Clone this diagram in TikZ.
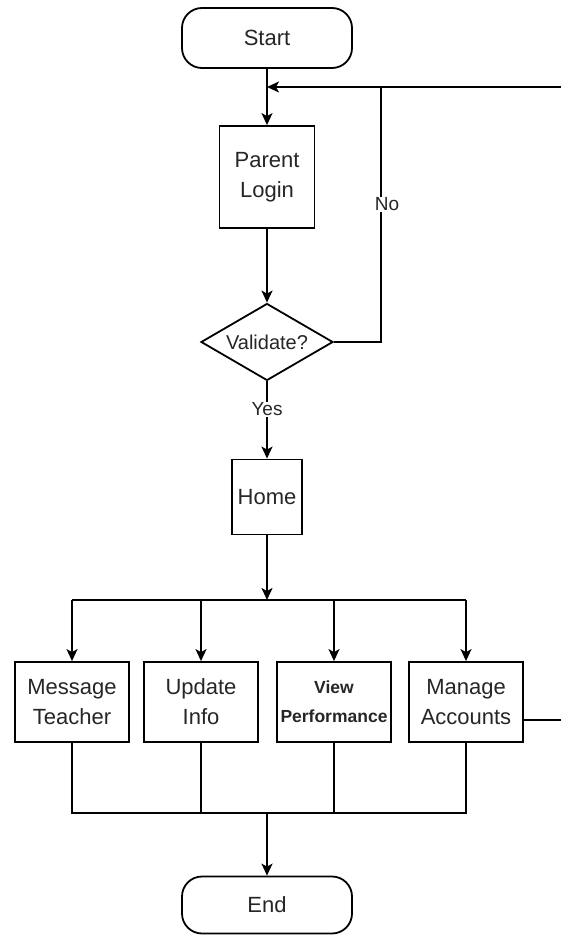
\documentclass[tikz,border=0pt]{standalone}
\usepackage{fontspec}
\setmainfont{Liberation Sans}
\usetikzlibrary{shapes.geometric,arrows.meta}

\tikzset{
  box/.style={draw,line width=1.8pt,fill=white,minimum width=114pt,minimum height=80pt,align=center,inner sep=2pt,font=\fontsize{22}{30}\selectfont,text=black!85},
  term/.style={box,rounded corners=20pt,minimum width=170pt,minimum height=60pt},
  decide/.style={diamond,draw,line width=1.8pt,aspect=1.71,minimum width=132pt,minimum height=77pt,inner sep=0pt,font=\fontsize{20}{24}\selectfont,text=black!85},
  line/.style={line width=1.8pt},
  arr/.style={line,-{Stealth[length=12pt,width=11pt,inset=3pt]}},
  lbl/.style={fill=white,inner sep=1pt,font=\fontsize{19}{22}\selectfont,text=black!85}
}

\begin{document}
\begin{tikzpicture}[x=1pt,y=-1pt]
\useasboundingbox (0,0) rectangle (561,936);
% nodes
\node[term](start) at (267,38) {Start};
\node[box,minimum width=95pt,minimum height=102pt](login) at (267,177) {Parent\\Login};
\node[decide](valid) at (267,342) {Validate?};
\node[box,minimum width=70pt,minimum height=75pt](home) at (267,497) {Home};
\node[box](mt) at (72,702) {Message\\Teacher};
\node[box](ui) at (201,702) {Update\\Info};
\node[box,font=\bfseries\fontsize{17.5}{29}\selectfont](vp) at (334,702) {View\\Performance};
\node[box](ma) at (466,702) {Manage\\Accounts};
\node[term,minimum height=57pt](end) at (267,905) {End};
\coordinate (back) at (561,87);
\coordinate (out) at (561,720);
\coordinate (bus) at (267,600);
\coordinate (join) at (267,813);
% connectors
\draw[arr](start)--(login);
\draw[arr](back)--(start.south |- back);
\draw[line](valid.east)-|node[lbl,pos=0.77,xshift=6pt]{No}(381,87);
\draw[arr](login)--(valid);
\draw[arr](valid)--node[lbl,pos=0.36]{Yes}(home);
\draw[arr](home)--(bus);
\draw[line](mt.north |- bus)--(ma.north |- bus);
\draw[arr](mt.north |- bus)--(mt.north);
\draw[arr](ui.north |- bus)--(ui.north);
\draw[arr](vp.north |- bus)--(vp.north);
\draw[arr](ma.north |- bus)--(ma.north);
\draw[line](ma.east |- out)--(out);
\draw[line](mt.south)--(mt.south |- join)--(ma.south |- join)--(ma.south);
\draw[line](ui.south)--(ui.south |- join);
\draw[line](vp.south)--(vp.south |- join);
\draw[arr](join)--(end);
\end{tikzpicture}
\end{document}
